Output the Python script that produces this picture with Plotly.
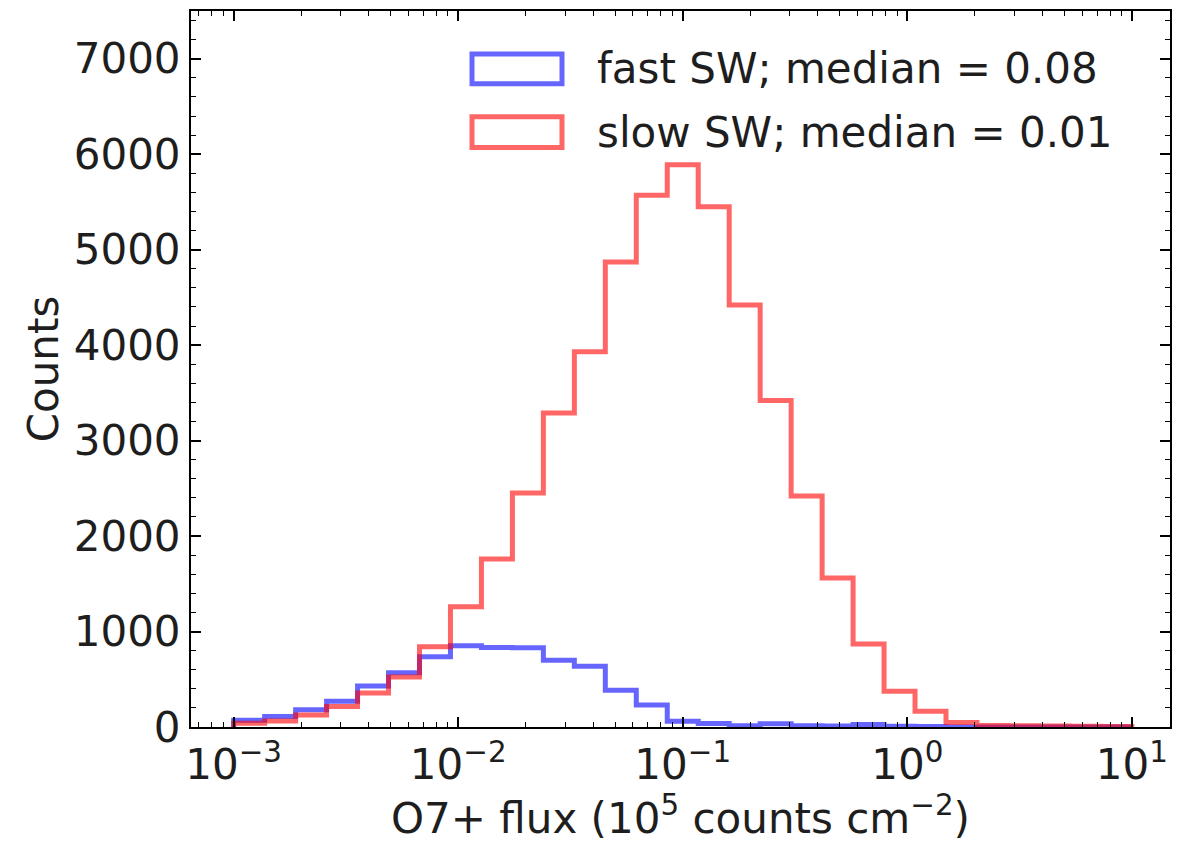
import numpy as np
import plotly.graph_objects as go

# 29 logarithmic bins between 1e-3 and 1e1 (10^5 counts cm^-2)
bin_edges = np.logspace(-3, 1, 30)

fast_counts = [70, 110, 180, 271, 430, 568, 735, 850, 832, 830,
               700, 637, 386, 230, 60, 36, 12, 33, 12, 10,
               25, 8, 5, 0, 0, 0, 0, 0, 0]
slow_counts = [38, 63, 125, 215, 355, 525, 840, 1260, 1760, 2450,
               3290, 3930, 4870, 5570, 5890, 5450, 4420, 3420, 2420, 1560,
               870, 375, 165, 48, 15, 12, 10, 8, 5]

series_names = ["fast SW; median = 0.08", "slow SW; median = 0.01"]
series_colors = ["rgba(0,0,255,0.6)", "rgba(255,0,0,0.6)"]

x_tick_vals = [1e-3, 1e-2, 1e-1, 1e0, 1e1]
x_tick_text = ["10<sup>\u22123</sup>", "10<sup>\u22122</sup>", "10<sup>\u22121</sup>",
               "10<sup>0</sup>", "10<sup>1</sup>"]
y_tick_vals = [0, 1000, 2000, 3000, 4000, 5000, 6000, 7000]

FONT = "DejaVu Sans"
TEXT = "#1e1e1e"
FS = 42


def step_outline(edges, counts):
    """Outline of a step histogram: up at the first edge, down at the last."""
    xs = list(edges) + [edges[-1]]
    ys = [0] + list(counts) + [0]
    return xs, ys


fig = go.Figure()
for counts, name, color in zip([fast_counts, slow_counts], series_names, series_colors):
    xs, ys = step_outline(bin_edges, counts)
    fig.add_trace(go.Scatter(
        x=xs, y=ys, mode="lines", name=name,
        line=dict(color=color, width=5, shape="vh"),
        showlegend=False, hoverinfo="skip",
    ))

# minor ticks at 2..9 x 10^n
minor_x = [k * 10.0 ** e for e in range(-4, 2) for k in range(2, 10)]

fig.update_xaxes(
    type="log", range=[-3.19, 1.17],
    tickmode="array", tickvals=x_tick_vals, ticktext=x_tick_text,
    ticks="inside", ticklen=10, tickwidth=1.5, tickcolor="black",
    minor=dict(ticks="inside", ticklen=5, tickwidth=1.2, tickcolor="black",
               tickmode="array", tickvals=minor_x, showgrid=False),
    showline=True, linewidth=2, linecolor="black", mirror="ticks",
    showgrid=False, zeroline=False,
    tickfont=dict(family=FONT, size=FS, color=TEXT),
    title=dict(text="O7+ flux (10<sup>5</sup> counts cm<sup>\u22122</sup>)",
               font=dict(family=FONT, size=FS, color=TEXT), standoff=10),
)
fig.update_yaxes(
    range=[0, 7500],
    tickmode="array", tickvals=y_tick_vals,
    ticks="inside", ticklen=10, tickwidth=1.5, tickcolor="black",
    minor=dict(ticks="inside", ticklen=5, tickwidth=1.2, tickcolor="black",
               dtick=200, showgrid=False),
    showline=True, linewidth=2, linecolor="black", mirror="ticks",
    showgrid=False, zeroline=False,
    tickfont=dict(family=FONT, size=FS, color=TEXT),
    title=dict(text="Counts", font=dict(family=FONT, size=FS, color=TEXT), standoff=2),
)

# legend drawn as open boxes with labels
L, R, T, B = 191, 1170, 9, 727


def px_x(px):
    return (px - L) / (R - L)


def px_y(py):
    return (B - py) / (B - T)


legend_rows = [(52, 82), (115, 146)]
for (top, bottom), name, color in zip(legend_rows, series_names, series_colors):
    fig.add_shape(type="rect", xref="paper", yref="paper",
                  x0=px_x(472), x1=px_x(562), y0=px_y(bottom), y1=px_y(top),
                  line=dict(color=color, width=5), fillcolor="rgba(0,0,0,0)")
    fig.add_annotation(x=px_x(595), y=px_y((top + bottom) / 2), xref="paper", yref="paper",
                       text=name, showarrow=False, xanchor="left", yanchor="middle",
                       font=dict(family=FONT, size=FS, color=TEXT))

fig.update_layout(
    width=1190, height=843,
    margin=dict(l=L, r=1190 - R, t=T, b=843 - B),
    paper_bgcolor="white", plot_bgcolor="white",
    showlegend=False,
)

fig.write_html("out.html")
